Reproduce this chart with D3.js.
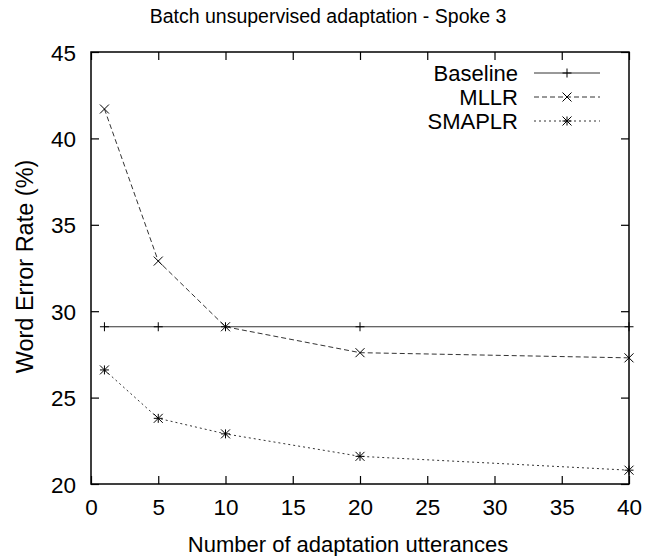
<!DOCTYPE html>
<html>
<head>
<meta charset="utf-8">
<script src="https://cdn.jsdelivr.net/npm/d3@7"></script>
<style>
  body { margin: 0; background: #fff; }
  text { font-family: "Liberation Sans", Arial, sans-serif; fill: #000; }
</style>
</head>
<body>
<svg id="chart" width="654" height="556"></svg>
<script>
// data
var utterances = [1, 5, 10, 20, 40];
var baseline = [29.1, 29.1, 29.1, 29.1, 29.1];
var mllr = [41.7, 32.9, 29.1, 27.6, 27.3];
var smaplr = [26.6, 23.8, 22.9, 21.6, 20.8];
var xTicks = [0, 5, 10, 15, 20, 25, 30, 35, 40];
var yTicks = [20, 25, 30, 35, 40, 45];

var series = [
  { name: "Baseline", values: baseline, dash: null, marker: "plus" },
  { name: "MLLR", values: mllr, dash: "5,3", marker: "cross" },
  { name: "SMAPLR", values: smaplr, dash: "2,3", marker: "star" }
];

var margin = {top: 52, right: 25, bottom: 72, left: 91},
    width = 654 - margin.left - margin.right,
    height = 556 - margin.top - margin.bottom;

var svg = d3.select("svg#chart");
var g = svg.append("g").attr("transform", "translate(" + margin.left + "," + margin.top + ")");

var x = d3.scaleLinear().domain([0, 40]).range([0, width]);
var y = d3.scaleLinear().domain([20, 45]).range([height, 0]);

// title
svg.append("text")
    .attr("x", 328).attr("y", 22.5)
    .attr("text-anchor", "middle")
    .style("font-size", "19.5px")
    .text("Batch unsupervised adaptation - Spoke 3");

// axes, ticks inward on all sides
function styleAxis(sel) {
  sel.select(".domain").remove();
  sel.selectAll(".tick line").attr("stroke", "#000").attr("stroke-width", 1.2);
  sel.selectAll("text").style("font-size", "22.5px").attr("fill", "#000");
}

g.append("g")
    .attr("transform", "translate(0," + height + ")")
    .call(d3.axisBottom(x).tickValues(xTicks).tickSize(-8).tickPadding(15))
    .call(styleAxis);
g.append("g")
    .call(d3.axisTop(x).tickValues(xTicks).tickSize(-8).tickFormat(""))
    .call(styleAxis);
g.append("g")
    .call(d3.axisLeft(y).tickValues(yTicks).tickSize(-8).tickPadding(15))
    .call(styleAxis)
    .selectAll("text").attr("dy", "0.36em");
g.append("g")
    .attr("transform", "translate(" + width + ",0)")
    .call(d3.axisRight(y).tickValues(yTicks).tickSize(-8).tickFormat(""))
    .call(styleAxis);

g.append("rect")
    .attr("width", width).attr("height", height)
    .attr("fill", "none").attr("stroke", "#000").attr("stroke-width", 1.5);

// axis labels
svg.append("text")
    .attr("x", 348).attr("y", 552)
    .attr("text-anchor", "middle")
    .style("font-size", "22px")
    .text("Number of adaptation utterances");
svg.append("text")
    .attr("transform", "translate(33,266.5) rotate(-90)")
    .attr("text-anchor", "middle")
    .style("font-size", "23.5px")
    .text("Word Error Rate (%)");

function drawMarker(sel, type, cx, cy) {
  var s = 4.5;
  var p = "";
  if (type == "plus" || type == "star") p += "M" + (cx - s) + "," + cy + "H" + (cx + s) + "M" + cx + "," + (cy - s) + "V" + (cy + s);
  if (type == "cross" || type == "star") p += "M" + (cx - s) + "," + (cy - s) + "L" + (cx + s) + "," + (cy + s) + "M" + (cx - s) + "," + (cy + s) + "L" + (cx + s) + "," + (cy - s);
  sel.append("path").attr("d", p).attr("stroke", "#000").attr("stroke-width", 1).attr("fill", "none");
}

var line = d3.line()
    .x(function(d) { return x(d[0]); })
    .y(function(d) { return y(d[1]); });

series.forEach(function(s, i) {
  var pts = utterances.map(function(u, j) { return [u, s.values[j]]; });
  // baseline line runs across the whole plot
  if (s.name == "Baseline") pts = [[1, s.values[0]], [40, s.values[4]]];
  g.append("path")
      .datum(pts)
      .attr("fill", "none")
      .attr("stroke", "#333")
      .attr("stroke-width", 1)
      .attr("stroke-dasharray", s.dash)
      .attr("d", line);
  utterances.forEach(function(u, j) {
    drawMarker(g, s.marker, x(u), y(s.values[j]));
  });

  // legend
  var ly = 73 + i * 24;
  svg.append("text")
      .attr("x", 518).attr("y", ly)
      .attr("dy", "0.36em")
      .attr("text-anchor", "end")
      .style("font-size", "22px")
      .text(s.name);
  svg.append("line")
      .attr("x1", 534).attr("x2", 600).attr("y1", ly).attr("y2", ly)
      .attr("stroke", "#333").attr("stroke-width", 1)
      .attr("stroke-dasharray", s.dash);
  drawMarker(svg, s.marker, 567, ly);
});
</script>
</body>
</html>
